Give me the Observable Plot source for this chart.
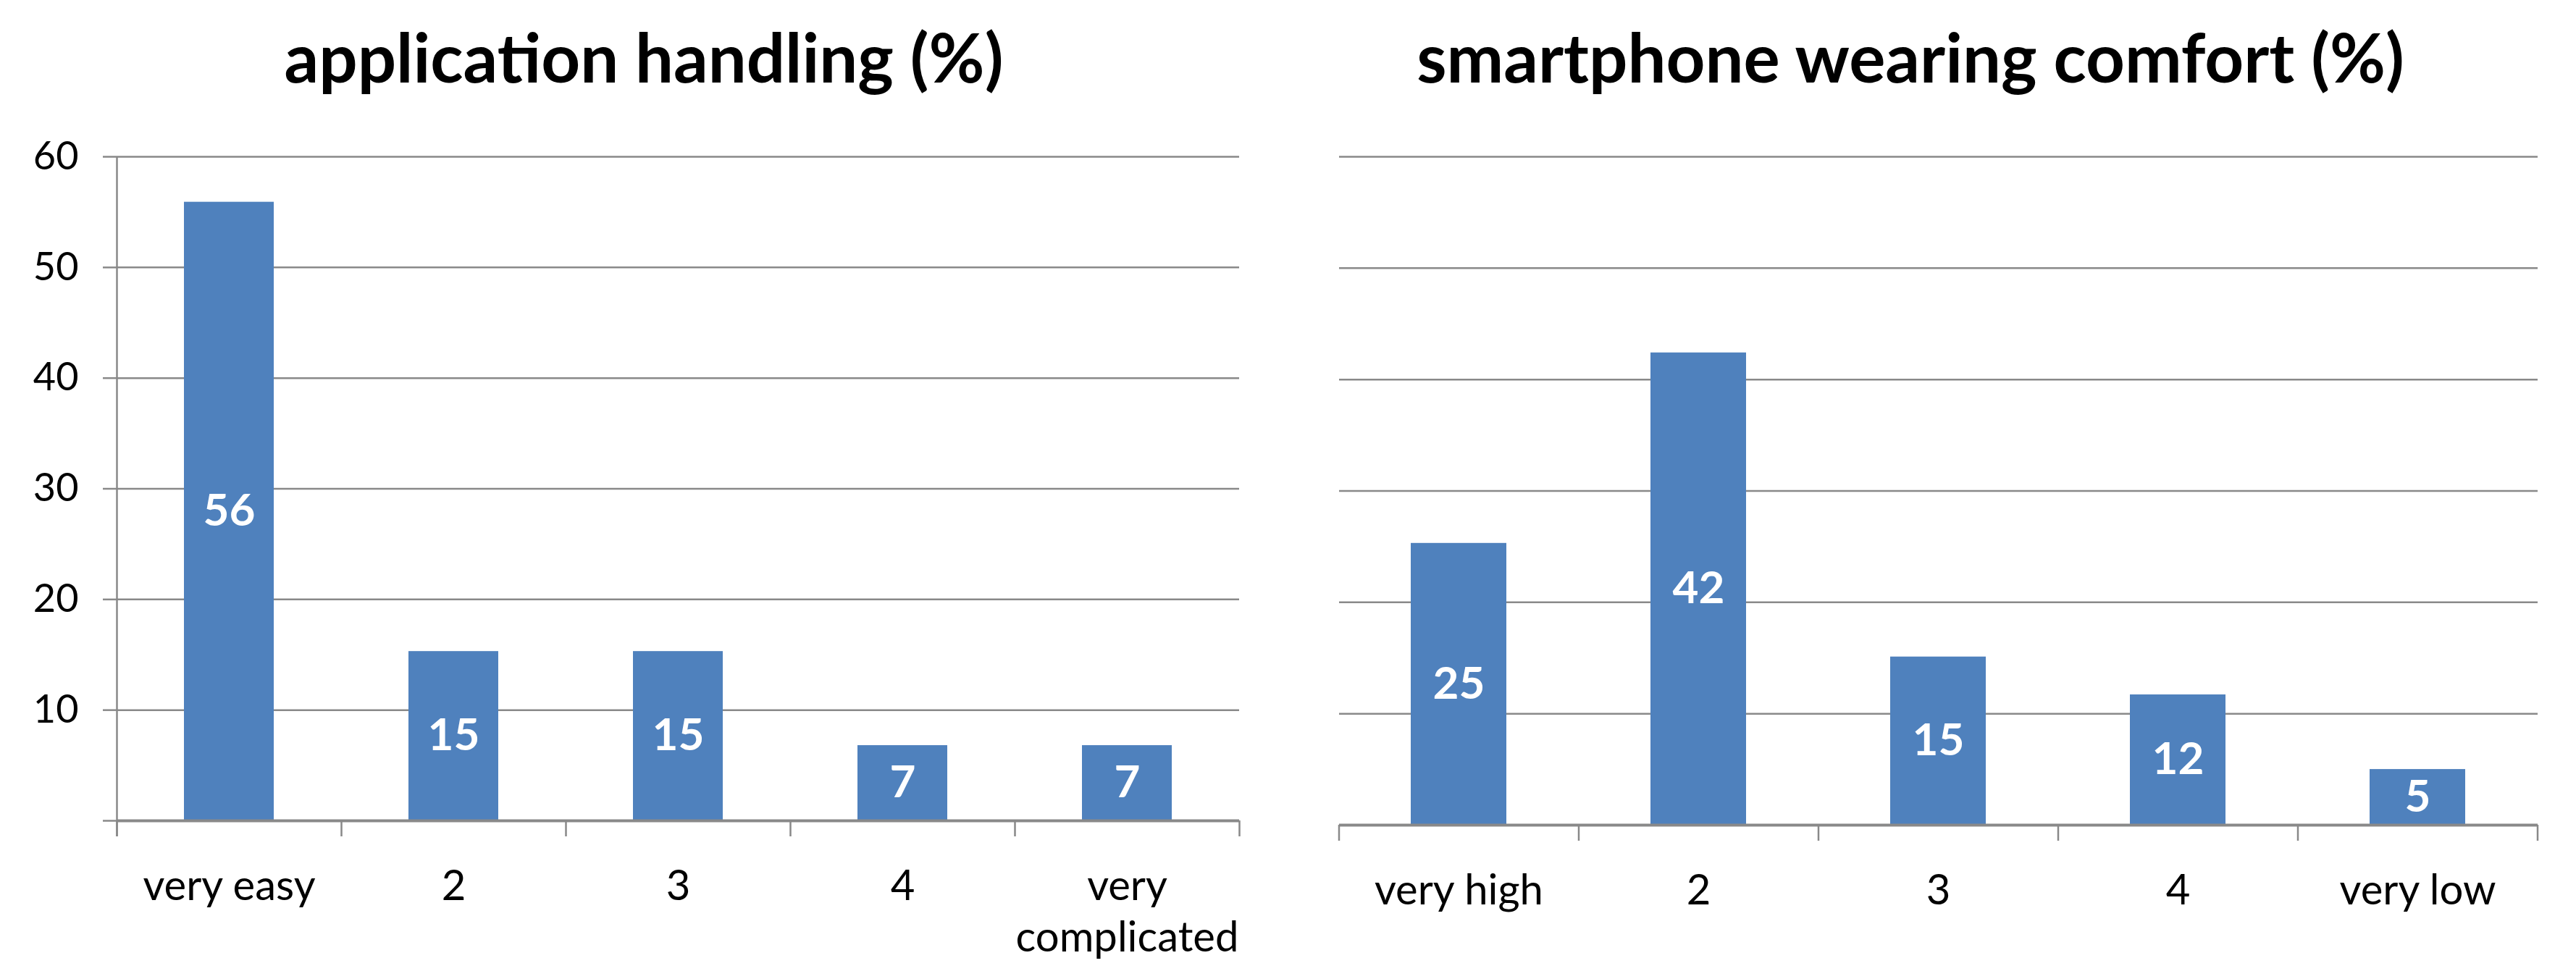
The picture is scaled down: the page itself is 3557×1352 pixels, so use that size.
<!DOCTYPE html>
<html>
<head>
<meta charset="utf-8">
<script src="https://cdn.jsdelivr.net/npm/d3@7"></script>
<script src="https://cdn.jsdelivr.net/npm/@observablehq/plot@0.6"></script>
<style>
  body { margin: 0; background: #fff; font-family: Lato, sans-serif; }
  #wrap { display: flex; width: 3557px; height: 1352px; overflow: hidden; }
  .panel { position: relative; }
  .title { position: relative; height: 180px; }
  .title span { position: absolute; top: 31px; left: 0; right: 0; text-align: center;
    font-family: Lato, sans-serif; font-weight: bold; font-size: 94px; line-height: 1; white-space: nowrap; color: #000; }
</style>
</head>
<body>
<div id="wrap">
  <div class="panel" id="p1" style="width:1778px"><div class="title"><span id="t1"></span></div></div>
  <div class="panel" id="p2" style="width:1779px"><div class="title"><span id="t2" style="right:59px"></span></div></div>
</div>
<script>
// ---- data ----
const handlingTitle = "application handling (%)";
const handlingCategories = ["very easy", "2", "3", "4", "very complicated"];
const handlingValues = [55.9, 15.3, 15.3, 6.8, 6.8];
const handlingLabels = ["56", "15", "15", "7", "7"];

const comfortTitle = "smartphone wearing comfort (%)";
const comfortCategories = ["very high", "2", "3", "4", "very low"];
const comfortValues = [25.3, 42.4, 15.1, 11.7, 5.0];
const comfortLabels = ["25", "42", "15", "12", "5"];

const yTicks = [0, 10, 20, 30, 40, 50, 60];
const yDomain = [0, 60];

// ---- drawing ----
const gray = "#898989";
const blue = "#4f81bd";
const font = "Lato, sans-serif";

function panel({cats, values, labels, width, height, ml, mr, mt, mb, showY}) {
  const data = cats.map((c, i) => ({cat: c, value: values[i], label: labels[i]}));
  const step = (width - ml - mr) / cats.length;
  const plotH = height - mt - mb;
  const marks = [
    Plot.gridY(yTicks, {stroke: gray, strokeOpacity: 1, strokeWidth: 2.5}),
    Plot.barY(data, {x: "cat", y: "value", fill: blue}),
    Plot.ruleY([0], {stroke: gray, strokeWidth: 4}),
    Plot.text(data, {x: "cat", y: d => d.value / 2, text: "label", fill: "white",
      fontWeight: "bold", fontSize: 62, fontFamily: font}),
    Plot.text(data, {x: "cat", frameAnchor: "bottom", dy: 58, lineAnchor: "top", text: "cat",
      fontSize: 58, lineWidth: 6, lineHeight: 1.24, fill: "black", fontFamily: font}),
    // category boundary ticks
    Plot.ruleX(data, {x: "cat", dx: -step / 2, insetTop: plotH, insetBottom: -22, stroke: gray, strokeWidth: 2.5}),
    Plot.ruleX(data.slice(-1), {x: "cat", dx: step / 2, insetTop: plotH, insetBottom: -22, stroke: gray, strokeWidth: 2.5})
  ];
  if (showY) {
    marks.push(
      Plot.ruleX(data.slice(0, 1), {x: "cat", dx: -step / 2, insetBottom: -22, stroke: gray, strokeWidth: 2.5}),
      Plot.axisY(yTicks, {tickSize: 19, tickPadding: 34, tickFormat: d => d === 0 ? "" : String(d), label: null,
        fontSize: 54, fontFamily: font, stroke: gray, strokeWidth: 2.5, fill: "black"})
    );
  }
  return Plot.plot({
    width, height,
    marginLeft: ml, marginRight: mr, marginTop: mt, marginBottom: mb,
    style: {fontFamily: font, background: "white", overflow: "visible"},
    x: {type: "band", domain: cats, paddingInner: 0.6, paddingOuter: 0.3, axis: null},
    y: {domain: yDomain, axis: null, label: null},
    marks
  });
}

document.getElementById("t1").textContent = handlingTitle;
document.getElementById("t2").textContent = comfortTitle;

document.getElementById("p1").appendChild(panel({
  cats: handlingCategories, values: handlingValues, labels: handlingLabels,
  width: 1778, height: 1172, ml: 161, mr: 67, mt: 36, mb: 219, showY: true
}));
document.getElementById("p2").appendChild(panel({
  cats: comfortCategories, values: comfortValues, labels: comfortLabels,
  width: 1779, height: 1172, ml: 71, mr: 53, mt: 36, mb: 213, showY: false
}));
</script>
</body>
</html>
